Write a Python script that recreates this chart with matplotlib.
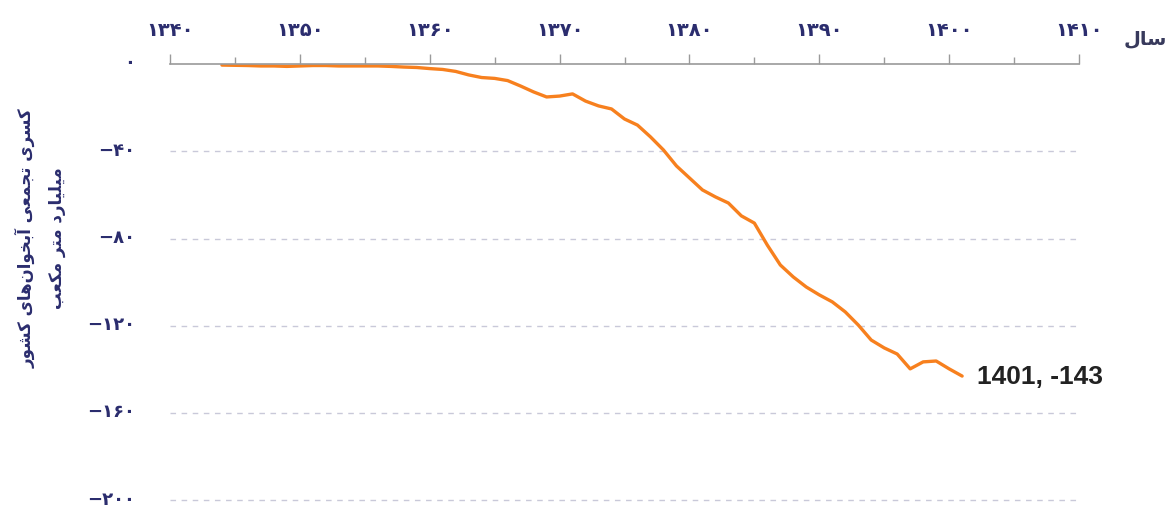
import matplotlib
matplotlib.use("Agg")
import matplotlib.pyplot as plt
import matplotlib.transforms as mtransforms
from matplotlib.ticker import FixedLocator, MultipleLocator

# cumulative aquifer deficit (billion m3)
years = list(range(1344, 1402))
deficit = [
    -0.5, -0.6, -0.7, -0.9, -0.9, -1.1, -0.9, -0.7, -0.7, -0.9,
    -0.9, -0.9, -0.9, -1.1, -1.4, -1.6, -2.1, -2.5, -3.4, -5.0,
    -6.2, -6.6, -7.6, -10.1, -12.8, -15.1, -14.7, -13.7, -17.0, -19.2,
    -20.6, -25.2, -28.0, -33.4, -39.4, -46.7, -52.2, -57.7, -60.9, -63.7,
    -69.6, -72.9, -83.0, -92.1, -97.6, -102.2, -105.8, -109.0, -113.6, -119.6,
    -126.5, -130.1, -132.9, -139.7, -136.5, -136.1, -139.7, -143.0,
]

x_ticks = [1340, 1350, 1360, 1370, 1380, 1390, 1400, 1410]
x_tick_labels = ["۱۳۴۰", "۱۳۵۰", "۱۳۶۰", "۱۳۷۰", "۱۳۸۰", "۱۳۹۰", "۱۴۰۰", "۱۴۱۰"]
y_ticks = [0, -40, -80, -120, -160, -200]
y_tick_labels = ["۰", "−۴۰", "−۸۰", "−۱۲۰", "−۱۶۰", "−۲۰۰"]

x_title = "سال"
y_title_1 = "کسری تجمعی آبخوان\u200cهای کشور"
y_title_2 = "میلیارد متر مکعب"

# matplotlib has no arabic shaping, so pick presentation forms by hand
# (isolated, final, initial, medial); None = only joins to the right
FORMS = {
    "ا": ("\ufe8d", "\ufe8e", None, None),
    "آ": ("\ufe81", "\ufe82", None, None),
    "ب": ("\ufe8f", "\ufe90", "\ufe91", "\ufe92"),
    "ت": ("\ufe95", "\ufe96", "\ufe97", "\ufe98"),
    "ج": ("\ufe9d", "\ufe9e", "\ufe9f", "\ufea0"),
    "خ": ("\ufea5", "\ufea6", "\ufea7", "\ufea8"),
    "د": ("\ufea9", "\ufeaa", None, None),
    "ر": ("\ufead", "\ufeae", None, None),
    "س": ("\ufeb1", "\ufeb2", "\ufeb3", "\ufeb4"),
    "ش": ("\ufeb5", "\ufeb6", "\ufeb7", "\ufeb8"),
    "ع": ("\ufec9", "\ufeca", "\ufecb", "\ufecc"),
    "ل": ("\ufedd", "\ufede", "\ufedf", "\ufee0"),
    "م": ("\ufee1", "\ufee2", "\ufee3", "\ufee4"),
    "ن": ("\ufee5", "\ufee6", "\ufee7", "\ufee8"),
    "ه": ("\ufee9", "\ufeea", "\ufeeb", "\ufeec"),
    "و": ("\ufeed", "\ufeee", None, None),
    "ک": ("\ufb8e", "\ufb8f", "\ufb90", "\ufb91"),
    "ی": ("\ufbfc", "\ufbfd", "\ufbfe", "\ufbff"),
}


def shape(text):
    out = []
    for i, c in enumerate(text):
        if c not in FORMS:
            if c != "\u200c":
                out.append(c)
            continue
        prev = text[i - 1] if i > 0 else None
        nxt = text[i + 1] if i + 1 < len(text) else None
        join_prev = prev in FORMS and FORMS[prev][2] is not None
        join_next = nxt in FORMS and FORMS[c][2] is not None
        iso, fin, ini, med = FORMS[c]
        if join_prev and join_next:
            out.append(med)
        elif join_prev:
            out.append(fin)
        elif join_next:
            out.append(ini)
        else:
            out.append(iso)
    return "".join(out)[::-1]


navy = "#2b2d6e"
font = ["DejaVu Sans"]

fig = plt.figure(figsize=(11.67, 5.07), dpi=100)
ax = fig.add_axes([170 / 1167, 0, 909 / 1167, 1 - 64 / 507])

ax.plot(years, deficit, color="#f7801e", linewidth=2.4, solid_capstyle="round")

ax.set_xlim(1340, 1410)
ax.set_ylim(-203, 0)

ax.xaxis.tick_top()
ax.xaxis.set_major_locator(FixedLocator(x_ticks))
ax.xaxis.set_minor_locator(MultipleLocator(5))
ax.set_xticklabels(x_tick_labels, family=font, fontweight="bold", fontsize=14, color=navy)
ax.tick_params(axis="x", which="major", length=7, width=1, color="#9a9a9a", pad=10)
ax.tick_params(axis="x", which="minor", length=5, width=1, color="#9a9a9a")

ax.set_yticks(y_ticks)
ax.set_yticklabels(y_tick_labels, family=font, fontweight="bold", fontsize=13, color=navy)
ax.tick_params(axis="y", length=0, pad=25)
lift = mtransforms.ScaledTranslation(0, 2 / 72, fig.dpi_scale_trans)
for lab in ax.get_yticklabels():
    lab.set_transform(lab.get_transform() + lift)

for v in y_ticks[1:]:
    ax.axhline(v, color="#c9c9d9", linewidth=1, linestyle=(0, (4, 4)), zorder=0)

for side in ["right", "bottom", "left"]:
    ax.spines[side].set_visible(False)
ax.spines["top"].set_color("#9a9a9a")
ax.spines["top"].set_linewidth(1.2)

ax.annotate(f"{years[-1]}, {deficit[-1]:.0f}", xy=(years[-1], deficit[-1]),
            xytext=(11, -1), textcoords="offset points", ha="left", va="center",
            family="Liberation Sans", fontweight="bold", fontsize=19, color="#222222",
            annotation_clip=False)

fig.text(1145 / 1167, 1 - 39 / 507, shape(x_title), family=font, fontweight="bold",
         fontsize=14, color="#383a5c", ha="center", va="center")
fig.text(25 / 1167, 1 - 238 / 507, shape(y_title_1), family=font, fontweight="bold",
         fontsize=12, color=navy, ha="center", va="center", rotation=90)
fig.text(57 / 1167, 1 - 238 / 507, shape(y_title_2), family=font, fontweight="bold",
         fontsize=12, color=navy, ha="center", va="center", rotation=90)

fig.savefig("out.png", dpi=100)
